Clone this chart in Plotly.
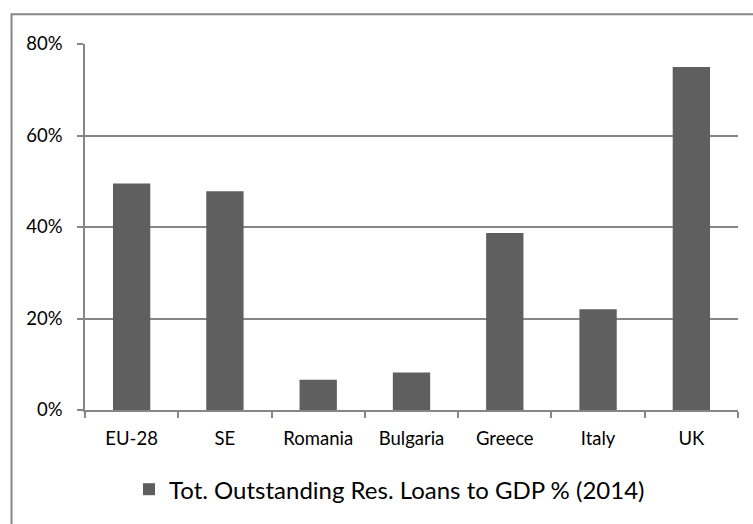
import plotly.graph_objects as go

categories = ["EU-28", "SE", "Romania", "Bulgaria", "Greece", "Italy", "UK"]
values = [0.495, 0.478, 0.066, 0.082, 0.387, 0.220, 0.750]
series_name = "Tot. Outstanding Res. Loans to GDP % (2014)"
y_ticks = [0, 0.2, 0.4, 0.6, 0.8]
y_tick_labels = ["0%", "20%", "40%", "60%", "80%"]

GRAY = "#868686"
FONT = "Lato"

fig = go.Figure()
fig.add_trace(go.Bar(
    x=categories, y=values, name=series_name,
    marker=dict(color="#5f5f5f", line=dict(width=0)),
    showlegend=True,
))

W, H = 753, 524
ml, mr, mt, mb = 84.5, 15.3, 44.4, 113.6
pw = W - ml - mr
ph = H - mt - mb

fig.update_layout(
    width=W, height=H,
    margin=dict(l=ml, r=mr, t=mt, b=mb, pad=0),
    paper_bgcolor="white", plot_bgcolor="white",
    bargap=0.6,
    font=dict(family=FONT, color="#000000"),
    showlegend=True,
    legend=dict(orientation="h", x=0.5 - 22 / pw, xanchor="center",
                y=(H - mb - 490) / ph, yanchor="middle",
                font=dict(size=24, family=FONT), itemwidth=30,
                bgcolor="rgba(0,0,0,0)"),
    xaxis=dict(
        type="category", showgrid=False, showline=True, linecolor=GRAY, linewidth=1.5,
        ticks="outside", tickson="boundaries", ticklen=6, tickcolor=GRAY, tickwidth=1.5,
        tickfont=dict(size=18.5, family=FONT), ticklabelstandoff=11,
        mirror=False,
    ),
    yaxis=dict(
        range=[0, 0.8], tickvals=y_ticks, ticktext=y_tick_labels,
        showgrid=True, gridcolor=GRAY, gridwidth=1.5,
        showline=True, linecolor=GRAY, linewidth=1.5,
        ticks="outside", ticklen=6, tickcolor=GRAY, tickwidth=1.5,
        tickfont=dict(size=18.5, family=FONT), ticklabelstandoff=11,
        zeroline=False,
    ),
)

# outer chart border
fig.add_shape(type="rect", xref="paper", yref="paper",
              x0=(11 - ml) / pw, x1=(W + 20 - ml) / pw,
              y0=(H - mb - (H + 20)) / ph, y1=(H - mb - 14.7) / ph,
              line=dict(color=GRAY, width=2), fillcolor="rgba(0,0,0,0)", layer="below")

fig.write_html("out.html")
